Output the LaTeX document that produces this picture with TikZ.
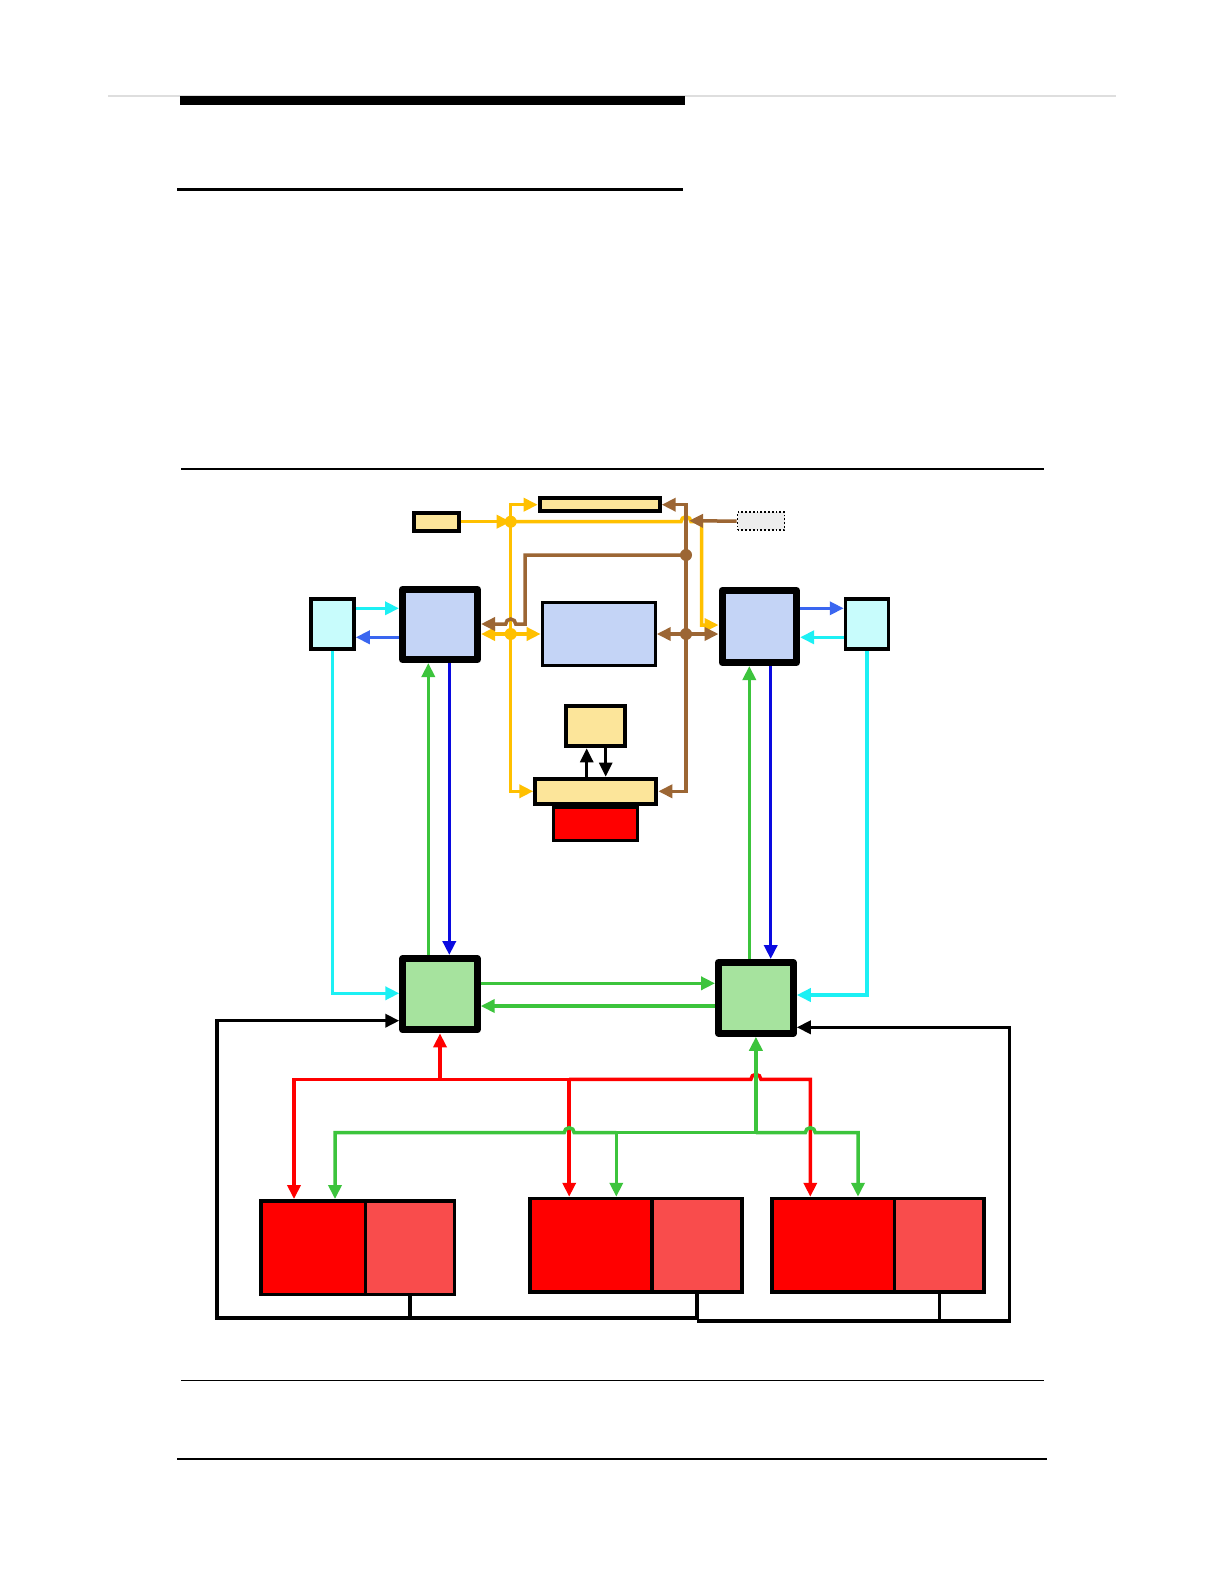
\documentclass[tikz,border=0pt]{standalone}
\usetikzlibrary{arrows.meta}
\definecolor{yfill}{HTML}{FCE59A}
\definecolor{bfill}{HTML}{C4D4F6}
\definecolor{cfill}{HTML}{C8FCFC}
\definecolor{gfill}{HTML}{A6E39E}
\definecolor{hred}{HTML}{F94C4C}
\definecolor{ycol}{HTML}{FFC000}
\definecolor{brcol}{HTML}{9C6634}
\definecolor{cycol}{HTML}{1CF0F4}
\definecolor{rbcol}{HTML}{3A66F0}
\definecolor{dbcol}{HTML}{0A0AE0}
\definecolor{grcol}{HTML}{3CC43C}
\definecolor{rdcol}{HTML}{FF0000}
\begin{document}
\begin{tikzpicture}[x=1pt,y=-1pt,
  >={Triangle[length=14pt,width=13pt]},
  thickbox/.style={draw=black,line width=7pt,line join=round,inner sep=0pt},
  medbox/.style={draw=black,line width=3.5pt,inner sep=0pt},
  thinbox/.style={draw=black,line width=3pt,inner sep=0pt},
  yl/.style={draw=ycol,line width=3.5pt},
  br/.style={draw=brcol,line width=3.5pt},
  cy/.style={draw=cycol,line width=3.5pt},
  rb/.style={draw=rbcol,line width=3.5pt},
  db/.style={draw=dbcol,line width=3.5pt},
  gr/.style={draw=grcol,line width=3.5pt},
  rd/.style={draw=rdcol,line width=3.5pt},
  bk/.style={draw=black,line width=3.5pt},
  bka/.style={draw=black,line width=3pt}]
\useasboundingbox[fill=white] (0,0) rectangle (1224,1584);

% page rules
\draw[line width=1.5pt,black!13] (108,96) -- (1116,96);
\fill[black] (180,96) rectangle (685,105);
\draw[line width=3pt] (177,189) -- (683,189);
\draw[line width=2.5pt] (181,469) -- (1044,469);
\draw[line width=1.3pt] (181,1380.7) -- (1044,1380.7);
\draw[line width=1.5pt] (177,1459) -- (1047,1459);

% boxes
\node[thickbox,fill=bfill,minimum width=75pt,minimum height=70pt] (LB) at (440,624.5) {};
\node[thickbox,fill=bfill,minimum width=74.5pt,minimum height=72pt] (RB) at (759.3,626.5) {};
\node[thinbox,fill=bfill,minimum width=113pt,minimum height=63.6pt] (CB) at (598.7,634) {};
\node[medbox,fill=cfill,minimum width=43pt,minimum height=50pt] (LC) at (332.5,624) {};
\node[medbox,fill=cfill,minimum width=43pt,minimum height=50pt] (RC) at (867,624) {};
\node[draw=black,line width=4pt,inner sep=0pt,fill=yfill,minimum width=45pt,minimum height=18pt] (SY) at (436.3,521.7) {};
\node[draw=black,line width=4pt,inner sep=0pt,fill=yfill,minimum width=120pt,minimum height=13.3pt] (TY) at (599.7,504.7) {};
\node[draw=black,line width=1.8pt,dotted,inner sep=0pt,fill=black!7,minimum width=47pt,minimum height=18pt] (DG) at (761,521.2) {};
\node[draw=black,line width=4pt,inner sep=0pt,fill=yfill,minimum width=59pt,minimum height=40pt] (Y2) at (595.7,726.3) {};
\node[medbox,fill=rdcol,minimum width=84pt,minimum height=33pt] (RR) at (595.5,824.2) {};
\node[draw=black,line width=4pt,inner sep=0pt,fill=yfill,minimum width=121pt,minimum height=25.3pt] (WY) at (595.8,791.3) {};
\node[thickbox,fill=gfill,minimum width=74.4pt,minimum height=71.3pt] (LG) at (440,994.2) {};
\node[thickbox,fill=gfill,minimum width=74.7pt,minimum height=70.7pt] (RG) at (755.9,997.9) {};
\node[medbox,fill=rdcol,minimum width=104.5pt,minimum height=93.5pt] (B1a) at (313.25,1247.55) {};
\node[medbox,fill=hred,minimum width=89pt,minimum height=93.5pt] (B1b) at (410,1247.55) {};
\node[medbox,fill=rdcol,minimum width=121.8pt,minimum height=93.7pt] (B2a) at (591.1,1245.35) {};
\node[medbox,fill=hred,minimum width=90.2pt,minimum height=93.7pt] (B2b) at (697.1,1245.35) {};
\node[medbox,fill=rdcol,minimum width=122.7pt,minimum height=93.7pt] (B3a) at (833.15,1245.35) {};
\node[medbox,fill=hred,minimum width=89.7pt,minimum height=93.7pt] (B3b) at (939.35,1245.35) {};

% level / column coordinates
\coordinate (hA) at (0,608.3);
\coordinate (hB) at (0,637.3);
\coordinate (hY) at (0,625);
\coordinate (hBr) at (0,624);
\coordinate (hCL) at (0,993.3);
\coordinate (hCR) at (0,995);
\coordinate (hC) at (0,983.3);
\coordinate (hD) at (0,1006);
\coordinate (hR) at (0,1079.3);
\coordinate (hG) at (0,1132.7);
\coordinate (hE) at (0,1020.7);
\coordinate (hE2) at (0,1027.3);
\coordinate (hF) at (0,1318);
\coordinate (hF2) at (0,1321);
\coordinate (vA) at (428.3,0);
\coordinate (vB) at (449.3,0);
\coordinate (vC) at (749.3,0);
\coordinate (vD) at (770.7,0);
\coordinate (vR1) at (294,0);
\coordinate (vR2) at (569.2,0);
\coordinate (vR3) at (810.3,0);
\coordinate (vG1) at (335,0);
\coordinate (vG2) at (616.3,0);
\coordinate (vG3) at (858,0);
\coordinate (vL) at (217,0);
\coordinate (vRr) at (1009.6,0);
\coordinate (vK1) at (586.7,0);
\coordinate (vK2) at (605.7,0);

% junctions
\coordinate (J1) at (510.7,521.7);
\coordinate (J2) at (510.7,634);
\coordinate (BJ1) at (686,555);
\coordinate (BJ2) at (686,634);
\coordinate (BT) at (689,520.7);

% yellow network
\draw[yl,->] (SY.east) -- (J1);
\draw[yl,->] (J1) |- (TY.west);
\draw[yl,->] (J1) -- (681,521.7) arc[start angle=180,end angle=360,radius=5] -- (701.7,521.7) -- (701.7,625) -- (RB.west |- hY);
\draw[yl,->] (J1) |- (WY.west);
\draw[yl,->] (J2) -- (LB.east |- J2);
\draw[yl,->] (J2) -- (CB.west);
\fill[ycol] (J1) circle[radius=6];
\fill[ycol] (J2) circle[radius=6];

% brown network
\draw[br,->] (DG.west) -- (BT);
\draw[br,->] (BJ1) |- (TY.east);
\draw[br] (BJ1) -- (BJ2);
\draw[br,->] (BJ2) |- (WY.east);
\draw[br,->] (BJ2) -- (CB.east |- BJ2);
\draw[br,->] (BJ2) -- (RB.west |- BJ2);
\draw[br,->] (BJ1) -- (525,555) -- (525,624) -- (515.7,624) arc[start angle=0,end angle=-180,radius=5] -- (LB.east |- hBr);
\fill[brcol] (BJ1) circle[radius=6];
\fill[brcol] (BJ2) circle[radius=6];

% cyan / blue links
\draw[cy,->] (LC.east |- hA) -- (LB.west |- hA);
\draw[rb,->] (LB.west |- hB) -- (LC.east |- hB);
\draw[rb,->] (RB.east |- hA) -- (RC.west |- hA);
\draw[cy,->] (RC.west |- hB) -- (RB.east |- hB);
\draw[cy,->] (LC.south) |- (LG.west |- hCL);
\draw[cy,->] (RC.south) |- (RG.east |- hCR);

% vertical links
\draw[gr,->] (LG.north -| vA) -- (LB.south -| vA);
\draw[db,->] (LB.south -| vB) -- (LG.north -| vB);
\draw[gr,->] (RG.north -| vC) -- (RB.south -| vC);
\draw[db,->] (RB.south -| vD) -- (RG.north -| vD);
\draw[gr,->] (LG.east |- hC) -- (RG.west |- hC);
\draw[gr,->] (RG.west |- hD) -- (LG.east |- hD);

% black arrows between yellow boxes
\draw[bka,->] (WY.north -| vK1) -- (Y2.south -| vK1);
\draw[bka,->] (Y2.south -| vK2) -- (WY.north -| vK2);

% red distribution
\draw[rd,->] (LG.south |- hR) -- (LG.south);
\draw[rd,->] (LG.south |- hR) -| (B1a.north -| vR1);
\draw[rd,->] (LG.south |- hR) -- (vR2 |- hR) -- (B2a.north -| vR2);
\draw[rd,->] (vR2 |- hR) -- (750.9,1079.3) arc[start angle=180,end angle=360,radius=5] -- (vR3 |- hR) -- (B3a.north -| vR3);

% green distribution
\draw[gr,->] (RG.south |- hG) -- (RG.south);
\draw[gr,->] (RG.south |- hG) -- (805.3,1132.7) arc[start angle=180,end angle=360,radius=5] -- (vG3 |- hG) -- (B3a.north -| vG3);
\draw[gr,->] (RG.south |- hG) -- (vG2 |- hG) -- (B2a.north -| vG2);
\draw[gr,->] (vG2 |- hG) -- (574.2,1132.7) arc[start angle=0,end angle=-180,radius=5] -- (vG1 |- hG) -- (B1a.north -| vG1);

% black return lines
\draw[bk,->] (B2b.south) |- (vL |- hF) |- (LG.west |- hE);
\draw[bk] (B1b.south) -- (B1b.south |- hF);
\draw[bk,->] (B2b.south |- hF2) -| (vRr |- hE2) -- (RG.east |- hE2);
\draw[bk] (B3b.south) -- (B3b.south |- hF2);
\end{tikzpicture}
\end{document}
